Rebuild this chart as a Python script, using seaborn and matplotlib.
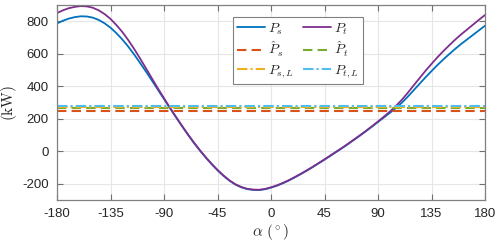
import numpy as np
import pandas as pd
import matplotlib
matplotlib.use("Agg")
import matplotlib.pyplot as plt
import seaborn as sns

# ---- data (every 5 degrees) ----
alpha = list(range(-180, 181, 5))
P_s = [786, 803, 816, 825, 830, 829, 822, 808, 787, 760,
       726, 687, 643, 594, 542, 488, 433, 377, 321, 265,
       210, 156, 103, 53, 6, -38, -79, -117, -151, -181,
       -205, -222, -233, -238, -239, -234, -224, -212, -197, -180,
       -161, -141, -120, -98, -75, -52, -28, -4, 20, 45,
       71, 97, 124, 152, 180, 208, 236, 266, 298, 335,
       375, 415, 455, 493, 530, 565, 598, 630, 660, 688,
       716, 744, 772]
P_t = [850, 867, 880, 888, 893, 891, 883, 867, 844, 814,
       776, 733, 683, 628, 569, 508, 446, 385, 326, 268,
       212, 158, 105, 55, 8, -36, -77, -115, -149, -179,
       -203, -220, -231, -236, -237, -232, -222, -210, -195, -178,
       -159, -139, -118, -96, -73, -50, -26, -2, 22, 47,
       73, 99, 126, 154, 183, 213, 244, 278, 316, 359,
       405, 450, 495, 537, 578, 616, 652, 687, 719, 749,
       779, 809, 838]
P_hat_s = 250
P_hat_t = 265
P_s_L = 270
P_t_L = 280

xticks = [-180, -135, -90, -45, 0, 45, 90, 135, 180]
yticks = [-200, 0, 200, 400, 600, 800]

# ---- style ----
sns.set_style("ticks")
plt.rcParams['font.family'] = ['Liberation Sans', 'DejaVu Sans']
plt.rcParams['mathtext.fontset'] = 'cm'

c_blue = '#0072BD'
c_orange = '#D95319'
c_yellow = '#EDB120'
c_purple = '#7E2F8E'
c_green = '#77AC30'
c_lblue = '#4DBEEE'

fig = plt.figure(figsize=(5.0, 2.46), dpi=100)
ax = fig.add_axes([0.114, 0.187, 0.856, 0.793])

df = pd.DataFrame({'alpha': alpha, 'P_s': P_s, 'P_t': P_t})

sns.lineplot(data=df, x='alpha', y='P_s', ax=ax, color=c_blue, lw=1.3,
             label=r'$P_s$')
h_ps = ax.lines[-1]
sns.lineplot(data=df, x='alpha', y='P_t', ax=ax, color=c_purple, lw=1.3,
             label=r'$P_t$')
h_pt = ax.lines[-1]

h_hs = ax.axhline(P_hat_s, color=c_orange, lw=1.5, ls=(0, (4.5, 2.5)),
                  label=r'$\hat{P}_s$')
h_ht = ax.axhline(P_hat_t, color=c_green, lw=1.5, ls=(0, (4.5, 2.5)),
                  label=r'$\hat{P}_t$')
h_sl = ax.axhline(P_s_L, color=c_yellow, lw=1.5, ls=(0, (5, 1.5, 1, 1.5)),
                  label=r'$P_{s,L}$')
h_tl = ax.axhline(P_t_L, color=c_lblue, lw=1.5, ls=(0, (5, 1.5, 1, 1.5)),
                  label=r'$P_{t,L}$')

ax.set_xlim(-180, 180)
ax.set_ylim(-300, 900)
ax.set_xticks(xticks)
ax.set_yticks(yticks)
ax.set_xticklabels([str(t) for t in xticks])
ax.set_yticklabels([str(t) for t in yticks])

ax.grid(True, color='#e6e6e6', lw=0.8)
ax.set_axisbelow(True)
ax.tick_params(direction='in', top=True, right=True, length=4,
               width=0.8, color='#707070', labelsize=9.5,
               labelcolor='#262626', pad=6)
for s in ax.spines.values():
    s.set_color('#808080')
    s.set_linewidth(0.9)

ax.set_xlabel(r'$\alpha\ (^\circ)$', fontsize=11, labelpad=1, color='#262626')
ax.set_ylabel(r'$(\mathrm{kW})$', fontsize=11, labelpad=2, color='#262626')

leg = ax.legend(handles=[h_ps, h_hs, h_sl, h_pt, h_ht, h_tl], ncol=2,
                loc='upper left', bbox_to_anchor=(0.411, 0.938),
                fontsize=10, frameon=True, fancybox=False,
                edgecolor='#808080', framealpha=1, handlelength=2.0,
                handletextpad=0.25, columnspacing=0.6, labelspacing=0.25,
                borderpad=0.3, borderaxespad=0)
leg.get_frame().set_linewidth(0.8)

fig.savefig('out.png', dpi=100)
